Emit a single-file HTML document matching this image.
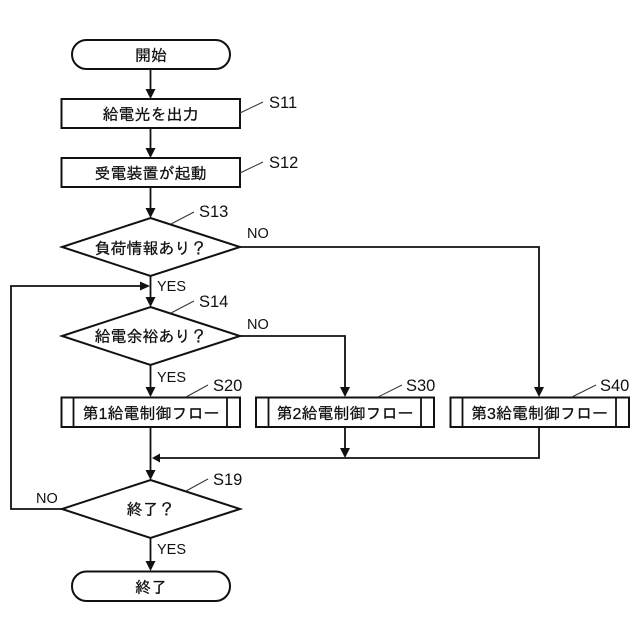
<!DOCTYPE html>
<html lang="ja">
<head>
<meta charset="utf-8">
<style>
html,body{margin:0;padding:0;background:#fff}
svg{display:block}
text{fill:#111}
.j{font-family:"Liberation Sans","IPAGothic","Noto Sans CJK JP",sans-serif;font-size:16px;text-anchor:middle;stroke:#111;stroke-width:.25px}
.l{font-family:"Liberation Sans",sans-serif;font-size:16.5px}
.s{font-family:"Liberation Sans",sans-serif;font-size:14.5px}
.b{fill:#fff;stroke:#111;stroke-width:2}
.c{fill:none;stroke:#111;stroke-width:1.8}
.t{fill:none;stroke:#333;stroke-width:1}
.a{fill:#111;stroke:none}
</style>
</head>
<body>
<svg width="640" height="640" viewBox="0 0 640 640" xmlns="http://www.w3.org/2000/svg">
<!-- connectors -->
<path class="c" d="M150.5 69V92M150.5 128V151M150.5 187V211M150.5 276V300M150.5 365V390M150.5 427V473M150.5 538V564"/>
<path class="c" d="M240 247H539V390M240 336H345V390M345 427V451M539 427V458H158M62 509H11V286H143"/>
<!-- arrowheads -->
<path class="a" d="M145.500 89H155.500L150.500 99ZM145.500 148H155.500L150.500 158ZM145.500 208H155.500L150.500 218ZM145.500 297H155.500L150.500 307ZM145.500 387H155.500L150.500 397ZM145.500 470H155.500L150.500 480ZM145.500 561H155.500L150.500 571Z"/>
<path class="a" d="M340 387H350L345 397ZM340 448H350L345 458ZM534 387H544L539 397Z"/>
<path class="a" d="M140 281.500V290.500L150 286ZM160 453.500V462.500L152 458Z"/>
<!-- shapes -->
<rect class="b" x="72" y="40" width="158" height="29" rx="14.500"/>
<rect class="b" x="61.500" y="99" width="178.500" height="29"/>
<rect class="b" x="61.500" y="158" width="178.500" height="29"/>
<path class="b" d="M150.500 218L240 247L150.500 276L62 247Z"/>
<path class="b" d="M150.500 307L240 336L150.500 365L62 336Z"/>
<rect class="b" x="61.500" y="397.500" width="178.500" height="29.500"/>
<path class="c" d="M73.500 398V427M227 398V427"/>
<rect class="b" x="256" y="397.500" width="178" height="29.500"/>
<path class="c" d="M268.500 398V427M421 398V427"/>
<rect class="b" x="450.500" y="397.500" width="178.500" height="29.500"/>
<path class="c" d="M462.500 398V427M616 398V427"/>
<path class="b" d="M150.500 480L240 509L150.500 538L62 509Z"/>
<rect class="b" x="72" y="571.500" width="158" height="29.500" rx="14.500"/>
<!-- leaders -->
<path class="t" d="M240 113L263 102M240 173L263 162M171 224L194 212M171 313L194 301M186 397L208 385M378 397L402 385M572 397L596 385M186 491L208 479"/>
<!-- node text -->
<text class="j" x="151" y="61">開始</text>
<text class="j" x="150.500" y="120">給電光を出力</text>
<text class="j" x="150.500" y="179">受電装置が起動</text>
<text class="j" x="150.500" y="254">負荷情報あり？</text>
<text class="j" x="150.500" y="342">給電余裕あり？</text>
<text class="j" x="151" y="419">第1給電制御フロー</text>
<text class="j" x="345" y="419">第2給電制御フロー</text>
<text class="j" x="539.500" y="419">第3給電制御フロー</text>
<text class="j" x="150.500" y="515">終了？</text>
<text class="j" x="151" y="593">終了</text>
<!-- step labels -->
<text class="l" x="269" y="108">S11</text>
<text class="l" x="269" y="168">S12</text>
<text class="l" x="199" y="217">S13</text>
<text class="l" x="199" y="307">S14</text>
<text class="l" x="213" y="391">S20</text>
<text class="l" x="406" y="391">S30</text>
<text class="l" x="600" y="391">S40</text>
<text class="l" x="213" y="485">S19</text>
<!-- branch labels -->
<text class="s" x="247" y="238">NO</text>
<text class="s" x="157" y="291">YES</text>
<text class="s" x="247" y="329">NO</text>
<text class="s" x="157" y="382">YES</text>
<text class="s" x="36" y="503">NO</text>
<text class="s" x="157" y="554">YES</text>
</svg>
</body>
</html>
